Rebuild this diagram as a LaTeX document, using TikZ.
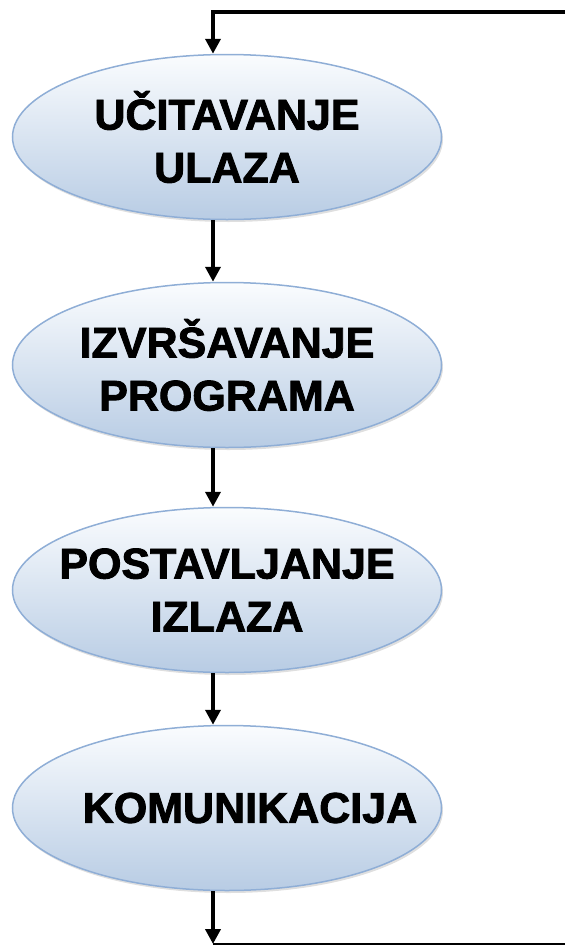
\documentclass[tikz,border=0pt]{standalone}
\usepackage{fontspec}
\setmainfont{Liberation Sans}
\newfontfamily\debeli[BoldFeatures = {FakeBold = 2}]{Liberation Sans}
\usetikzlibrary{shapes.geometric, arrows.meta, shadows}
\definecolor{rub}{HTML}{8FAED6}
\definecolor{vrh}{HTML}{FAFCFE}
\definecolor{dno}{HTML}{B8CCE4}

\begin{document}
\begin{tikzpicture}[x = 1pt, y = -1pt,
        korak/.style = {ellipse, draw = rub, line width = 1.5pt, top color = vrh, bottom color = dno,
            minimum width = 429pt, minimum height = 165pt, inner ysep = 0pt, inner xsep = -110pt, align = center,
            font = \debeli\fontsize{43}{53}\selectfont\bfseries,
            drop shadow = {opacity = 0.25, shadow xshift = 1.5pt, shadow yshift = -2.5pt}},
        strelica/.style = {line width = 4.5pt, -{Triangle[width = 15pt, length = 15pt]}}]
    \useasboundingbox (0,0) rectangle (565,946);
    \node[korak] (ulaz) at (227,137) {UČITAVANJE\\ULAZA};
    \node[korak] (program) at (227,365) {IZVRŠAVANJE\\PROGRAMA};
    \node[korak] (izlaz) at (227,590) {POSTAVLJANJE\\IZLAZA};
    \node[korak] (kom) at (227,808) {\hspace*{46pt}KOMUNIKACIJA};
    \coordinate (osa) at (213,0);
    \coordinate (gore) at (565,12);
    \coordinate (ugao) at (213,944);
    \coordinate (dole) at (565,944);
    \draw[strelica] (gore) -| (ulaz.north -| osa);
    \draw[strelica] (ulaz.south -| osa) -- (program.north -| osa);
    \draw[strelica] (program.south -| osa) -- (izlaz.north -| osa);
    \draw[strelica] (izlaz.south -| osa) -- (kom.north -| osa);
    \draw[strelica] (kom.south -| osa) -- (ugao);
    \draw[line width = 1.5pt] (ugao) -- (dole);
\end{tikzpicture}
\end{document}
